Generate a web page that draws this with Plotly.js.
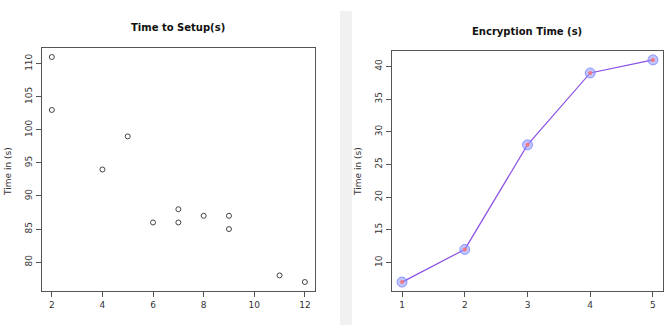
<!DOCTYPE html>
<html>
<head>
<meta charset="utf-8">
<script src="https://cdn.plot.ly/plotly-3.0.1.min.js"></script>
<style>html,body{margin:0;padding:0;background:#fff;}#chart{width:665px;height:325px;}</style>
</head>
<body>
<div id="chart"></div>
<script>
// Left chart: Time to Setup(s)
const setupX = [2, 2, 4, 5, 6, 7, 7, 8, 9, 9, 11, 12];
const setupY = [111, 103, 94, 99, 86, 88, 86, 87, 87, 85, 78, 77];
const setupXTicks = [2, 4, 6, 8, 10, 12];
const setupYTicks = [80, 85, 90, 95, 100, 105, 110];

// Right chart: Encryption Time (s)
const encX = [1, 2, 3, 4, 5];
const encY = [7, 12, 28, 39, 41];
const encXTicks = [1, 2, 3, 4, 5];
const encYTicks = [10, 15, 20, 25, 30, 35, 40];

const titles = ["Time to Setup(s)", "Encryption Time (s)"];
const yTitle = "Time in (s)";

const FONT = "DejaVu Sans, sans-serif";
const axisBase = {
  showline: true, mirror: true, linecolor: "#555", linewidth: 1,
  showgrid: false, zeroline: false,
  ticks: "outside", ticklen: 5, tickcolor: "#555",
  tickfont: {family: FONT, size: 9, color: "#333"},
  fixedrange: true
};

const traces = [
  {x: setupX, y: setupY, xaxis: "x", yaxis: "y", mode: "markers", type: "scatter",
   marker: {symbol: "circle-open", size: 5, color: "#444", line: {width: 1}}},
  {x: encX, y: encY, xaxis: "x2", yaxis: "y2", mode: "lines", type: "scatter",
   line: {color: "#8a4fe6", width: 1.2}},
  {x: encX, y: encY, xaxis: "x2", yaxis: "y2", mode: "markers", type: "scatter",
   marker: {symbol: "circle", size: 10, color: "rgba(140,150,255,0.55)", line: {width: 1, color: "rgba(110,120,255,0.7)"}}},
  {x: encX, y: encY, xaxis: "x2", yaxis: "y2", mode: "markers", type: "scatter",
   marker: {symbol: "circle", size: 4, color: "rgba(255,110,110,0.85)"}}
];

const layout = {
  width: 665, height: 325,
  margin: {l: 0, r: 0, t: 0, b: 0},
  paper_bgcolor: "#fff", plot_bgcolor: "#fff",
  showlegend: false,
  xaxis: Object.assign({}, axisBase, {domain: [41.7/665, 315/665], range: [1.6, 12.4], tickvals: setupXTicks, anchor: "y"}),
  yaxis: Object.assign({}, axisBase, {domain: [1-291/325, 1-48/325], range: [75.64, 112.36], tickvals: setupYTicks, tickangle: -90, anchor: "x"}),
  xaxis2: Object.assign({}, axisBase, {domain: [392/665, 663/665], range: [0.84, 5.16], tickvals: encXTicks, anchor: "y2"}),
  yaxis2: Object.assign({}, axisBase, {domain: [1-291/325, 1-51/325], range: [5.64, 42.36], tickvals: encYTicks, tickangle: -90, anchor: "x2"}),
  shapes: [
    {type: "rect", xref: "paper", yref: "paper", x0: 340/665, x1: 352/665, y0: 0, y1: 1-11/325,
     fillcolor: "#f1f1f1", line: {width: 0}, layer: "below"}
  ],
  annotations: [
    {text: "<b>" + titles[0] + "</b>", xref: "paper", yref: "paper", x: 178/665, y: 1-28/325,
     showarrow: false, font: {family: FONT, size: 10, color: "#111"}, xanchor: "center", yanchor: "middle"},
    {text: "<b>" + titles[1] + "</b>", xref: "paper", yref: "paper", x: 527/665, y: 1-31/325,
     showarrow: false, font: {family: FONT, size: 10, color: "#111"}, xanchor: "center", yanchor: "middle"},
    {text: yTitle, xref: "paper", yref: "paper", x: 8/665, y: 1-172/325, textangle: -90,
     showarrow: false, font: {family: FONT, size: 9, color: "#333"}, xanchor: "center", yanchor: "middle"},
    {text: yTitle, xref: "paper", yref: "paper", x: 358/665, y: 1-172/325, textangle: -90,
     showarrow: false, font: {family: FONT, size: 9, color: "#333"}, xanchor: "center", yanchor: "middle"}
  ]
};

Plotly.newPlot("chart", traces, layout, {staticPlot: true, displayModeBar: false});
</script>
</body>
</html>
